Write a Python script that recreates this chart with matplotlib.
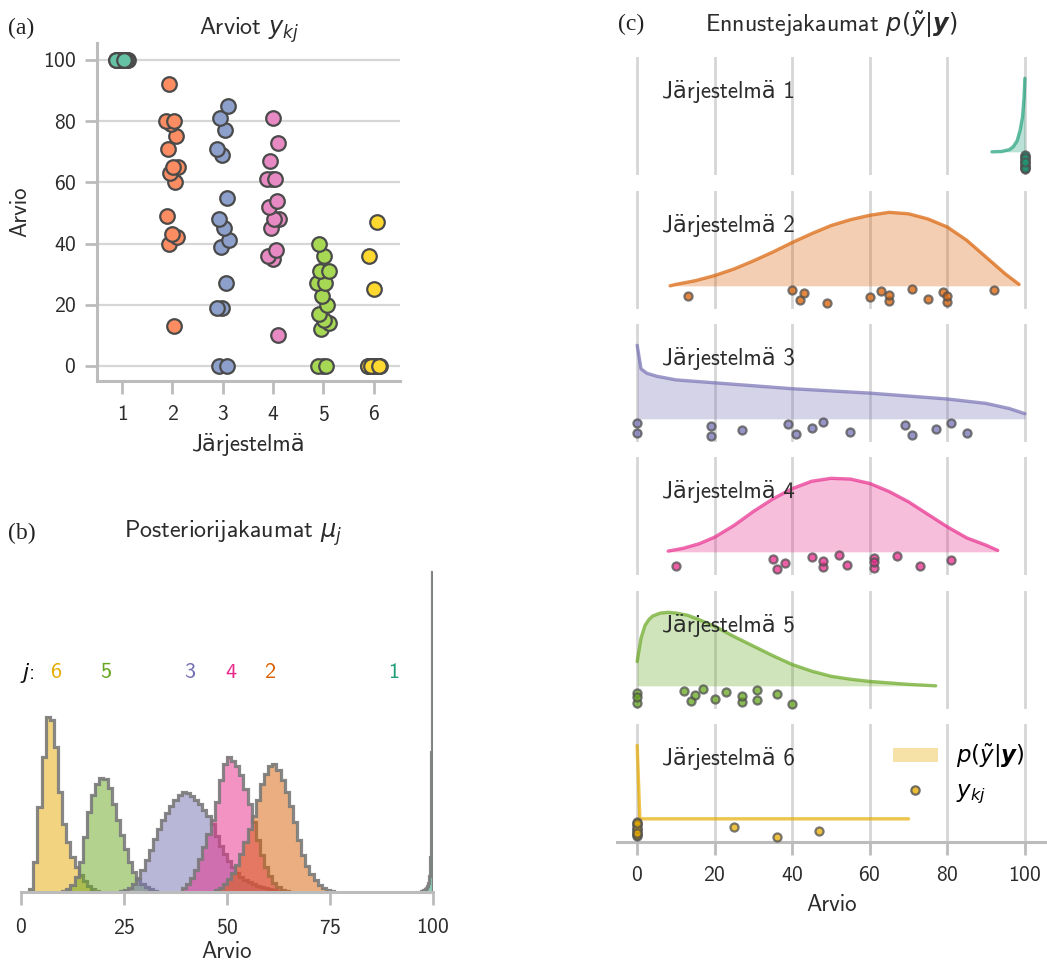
"""Ratings, posteriors of mu_j and posterior predictive densities (three panels)."""
import numpy as np
import matplotlib
matplotlib.use("Agg")
import matplotlib.pyplot as plt
from matplotlib.patches import Patch
from matplotlib.lines import Line2D

plt.rcParams['font.family'] = ['cmss10', 'DejaVu Sans']
plt.rcParams['mathtext.fontset'] = 'dejavusans'
plt.rcParams['axes.unicode_minus'] = False
plt.rcParams['axes.formatter.use_mathtext'] = True

# ---- data ----
systems = [1, 2, 3, 4, 5, 6]
ratings = [
    [100] * 15,
    [13, 40, 42, 43, 49, 60, 63, 65, 65, 71, 75, 79, 80, 80, 92],
    [0, 0, 19, 19, 27, 39, 41, 45, 48, 55, 69, 71, 77, 81, 85],
    [10, 35, 36, 38, 45, 48, 48, 52, 54, 61, 61, 61, 67, 73, 81],
    [0, 0, 0, 12, 14, 15, 17, 20, 23, 27, 27, 31, 31, 36, 40],
    [0] * 12 + [25, 36, 47],
]

# posterior histograms of mu_j (bin start, bin width, bin heights)
mu_start = {1: 97.0, 2: 47, 3: 24, 4: 39, 5: 10, 6: 2}
mu_width = {1: 0.25, 2: 1, 3: 1, 4: 1, 5: 1, 6: 1}
mu_hist = {
    1: [1, 1, 2, 2, 3, 4, 6, 9, 16, 35, 140, 320],
    2: [2, 4, 8, 13, 19, 27, 38, 50, 63, 76, 92, 108, 118, 126, 128, 122,
        112, 100, 86, 70, 52, 37, 26, 18, 12, 7, 4, 2, 1],
    3: [1, 2, 4, 8, 14, 22, 32, 42, 53, 63, 72, 79, 86, 92, 97, 100, 99, 96,
        92, 88, 82, 76, 68, 56, 46, 38, 31, 25, 19, 15, 12, 10, 8, 6, 5, 4,
        3, 2, 1],
    4: [4, 8, 14, 22, 33, 45, 58, 72, 90, 112, 128, 135, 131, 126, 117, 103,
        88, 70, 52, 37, 25, 16, 9, 5, 2, 1],
    5: [1, 3, 7, 15, 30, 55, 80, 97, 108, 114, 113, 104, 88, 72, 57, 43, 30,
        20, 13, 8, 5, 3, 1],
    6: [3, 30, 85, 135, 175, 172, 145, 100, 68, 50, 35, 25, 17, 11, 6, 3, 1],
}

# posterior predictive densities (scaled to peak 1)
pred_x = [
    [91.5, 94, 96, 97, 98, 98.8, 99.4, 99.8, 100],
    [8.5, 10, 15, 20, 25, 30, 35, 40, 45, 50, 55, 60, 65, 70, 75, 80, 85,
     90, 95, 98.5],
    [0, 1, 2.5, 5, 10, 20, 30, 40, 50, 60, 70, 80, 85, 90, 96, 100],
    [8, 12, 16, 20, 25, 30, 35, 40, 45, 50, 55, 60, 65, 70, 75, 80, 85, 90, 93],
    [0, 1, 2, 3, 4, 6, 8, 10, 13, 16, 20, 25, 30, 35, 40, 45, 50, 55, 60,
     65, 70, 77],
    [0, 0.7, 70],
]
pred_y = [
    [0.0, 0.005, 0.03, 0.07, 0.15, 0.3, 0.48, 0.75, 1.0],
    [0.0, 0.02, 0.07, 0.14, 0.23, 0.34, 0.46, 0.59, 0.71, 0.82, 0.9, 0.96,
     1.0, 0.98, 0.91, 0.8, 0.62, 0.39, 0.16, 0.02],
    [1.0, 0.68, 0.62, 0.58, 0.53, 0.49, 0.45, 0.41, 0.38, 0.35, 0.31, 0.27,
     0.24, 0.21, 0.14, 0.07],
    [0.01, 0.05, 0.11, 0.2, 0.36, 0.55, 0.72, 0.86, 0.96, 1.0, 0.99, 0.93,
     0.82, 0.68, 0.51, 0.34, 0.19, 0.09, 0.02],
    [0.33, 0.65, 0.82, 0.9, 0.95, 0.99, 1.0, 0.99, 0.96, 0.9, 0.81, 0.67,
     0.54, 0.41, 0.29, 0.2, 0.13, 0.09, 0.06, 0.04, 0.02, 0.0],
    [1.0, 0.0, 0.0],
]

set2 = ['#66c2a5', '#fc8d62', '#8da0cb', '#e78ac3', '#a6d854', '#ffd92f']
dark2 = ['#1b9e77', '#d95f02', '#7570b3', '#e7298a', '#66a61e', '#e6ab02']
TXT = '#2b2b2b'
SPINE = '#bcbcbc'
GRID = '#d6d6d6'
TITLE_FS = 17.3
LABEL_FS = 16.5
TICK_FS = 15.5

W, H = 1047, 967
fig = plt.figure(figsize=(W / 100, H / 100), dpi=100)


def fx(x):
    return x / W


def fy(y):
    return 1 - y / H


def jitter(n, shift):
    # deterministic low-discrepancy spread in [0, 1)
    return ((np.arange(n) + shift) * 0.618034) % 1.0


# ---- (a) ratings strip plot ----
ax_a = fig.add_axes([fx(97), fy(381), fx(303), 338 / H])
for i, j in enumerate(systems):
    v = np.array(ratings[i])
    xs = j + (jitter(len(v), i) - 0.5) * 0.26
    ax_a.scatter(xs, v, s=110, color=set2[i], edgecolor='#4a4a4a', lw=1.6,
                 zorder=3)
ax_a.set_xlim(0.5, 6.52)
ax_a.set_ylim(-4.9, 105.5)
ax_a.set_xticks(systems)
ax_a.set_yticks(range(0, 101, 20))
ax_a.grid(axis='y', color=GRID, lw=1.6)
ax_a.set_axisbelow(True)
for s in ['top', 'right']:
    ax_a.spines[s].set_visible(False)
for s in ['left', 'bottom']:
    ax_a.spines[s].set_color(SPINE)
    ax_a.spines[s].set_linewidth(2.2)
ax_a.tick_params(length=9, width=2, color=SPINE, labelsize=TICK_FS,
                 labelcolor=TXT, pad=6)
ax_a.tick_params(axis='x', pad=8)
ax_a.set_xlabel('Järjestelmä', fontsize=LABEL_FS, color=TXT, labelpad=6)
ax_a.set_ylabel('Arvio', fontsize=LABEL_FS, color=TXT, labelpad=8)
fig.text(fx(249), fy(30), r'Arviot $y_{kj}$', fontsize=TITLE_FS, color=TXT,
         ha='center', va='center')
fig.text(fx(8), fy(28), '(a)', family='Liberation Serif', fontsize=17,
         color='#222222', va='center')

# ---- (b) posterior histograms ----
ax_b = fig.add_axes([fx(21), fy(892), fx(412), 332 / H])
for k in [6, 5, 3, 4, 2, 1]:
    h = np.array(mu_hist[k], dtype=float)
    edges = mu_start[k] + mu_width[k] * np.arange(len(h) + 1)
    ax_b.stairs(h, edges, fill=True, color=dark2[k - 1], alpha=0.5, lw=0)
    ax_b.stairs(h, edges, color='#7a7a7a', lw=2.3, alpha=0.9)
ax_b.set_xlim(0, 100)
ax_b.set_ylim(0, 332)
ax_b.set_xticks([0, 25, 50, 75, 100])
ax_b.set_yticks([])
for s in ['top', 'right', 'left']:
    ax_b.spines[s].set_visible(False)
ax_b.spines['bottom'].set_color(SPINE)
ax_b.spines['bottom'].set_linewidth(2.2)
ax_b.tick_params(length=9, width=2, color=SPINE, labelsize=TICK_FS,
                 labelcolor=TXT, pad=10)
ax_b.set_xlabel('Arvio', fontsize=LABEL_FS, color=TXT, labelpad=2)
ax_b.text(1.5, 219, r'$j$:', fontsize=16, color='#111111', ha='center',
          va='center')
lab_x = {6: 8.3, 5: 20.6, 3: 41, 4: 51, 2: 60.4, 1: 90.5}
for k, xv in lab_x.items():
    ax_b.text(xv, 219, str(k), fontsize=16, color=dark2[k - 1],
              ha='center', va='center')
fig.text(fx(233), fy(533), r'Posteriorijakaumat $\mu_j$', fontsize=TITLE_FS,
         color=TXT, ha='center', va='center')
fig.text(fx(8), fy(533), '(b)', family='Liberation Serif', fontsize=17,
         color='#222222', va='center')

# ---- (c) posterior predictive ridges ----
row_tops = [57, 191, 324, 457, 591, 724]
for i, j in enumerate(systems):
    top = row_tops[i]
    ax = fig.add_axes([fx(617), fy(top + 118), fx(430), 118 / H])
    ax.set_xlim(-5.2, 105.7)
    ax.set_ylim(-0.315, 1.29)
    ax.set_xticks(range(0, 101, 20))
    ax.set_yticks([])
    ax.grid(axis='x', color=GRID, lw=2)
    ax.set_axisbelow(True)
    for s in ax.spines.values():
        s.set_visible(False)
    x = np.array(pred_x[i])
    y = np.array(pred_y[i])
    ax.fill_between(x, 0, y, color=dark2[i], alpha=0.3, lw=0)
    ax.plot(x, y, color=dark2[i], alpha=0.7, lw=2.4, solid_capstyle='round')
    v = np.array(ratings[i])
    ys = -0.03 - 0.22 * jitter(len(v), i + 3)
    ax.scatter(v, ys, s=34, color=dark2[i], edgecolor='#505050', lw=1.6,
               alpha=0.75, zorder=3, clip_on=False)
    ax.text(6.4, 0.82, f'Järjestelmä {j}', fontsize=LABEL_FS, color=TXT,
            va='center', ha='left')
    if i < 5:
        ax.tick_params(bottom=False, labelbottom=False)
    else:
        ax.spines['bottom'].set_visible(True)
        ax.spines['bottom'].set_color(SPINE)
        ax.spines['bottom'].set_linewidth(2.2)
        ax.tick_params(length=9, width=2, color=SPINE, labelsize=TICK_FS,
                       labelcolor=TXT, pad=8)
        ax.set_xlabel('Arvio', fontsize=LABEL_FS, color=TXT, labelpad=7)
        handles = [
            Patch(facecolor=dark2[5], alpha=0.35, lw=0),
            Line2D([], [], ls='none', marker='o', ms=6, mfc=dark2[5],
                   mec='#505050', mew=1.6, alpha=0.8),
        ]
        ax.legend(handles, [r'$p(\tilde{y}|\boldsymbol{y})$', r'$y_{kj}$'],
                  loc='upper left', bbox_to_anchor=(fx(893), fy(742)),
                  bbox_transform=fig.transFigure, frameon=False,
                  fontsize=LABEL_FS, handlelength=1.95, handleheight=0.6,
                  handletextpad=0.8, labelspacing=0.45, borderaxespad=0,
                  borderpad=0)

fig.text(fx(831), fy(25), r'Ennustejakaumat $p(\tilde{y}|\boldsymbol{y})$',
         fontsize=TITLE_FS, color=TXT, ha='center', va='center')
fig.text(fx(618), fy(24), '(c)', family='Liberation Serif', fontsize=17,
         color='#222222', va='center')

fig.savefig('out.png', dpi=100)
